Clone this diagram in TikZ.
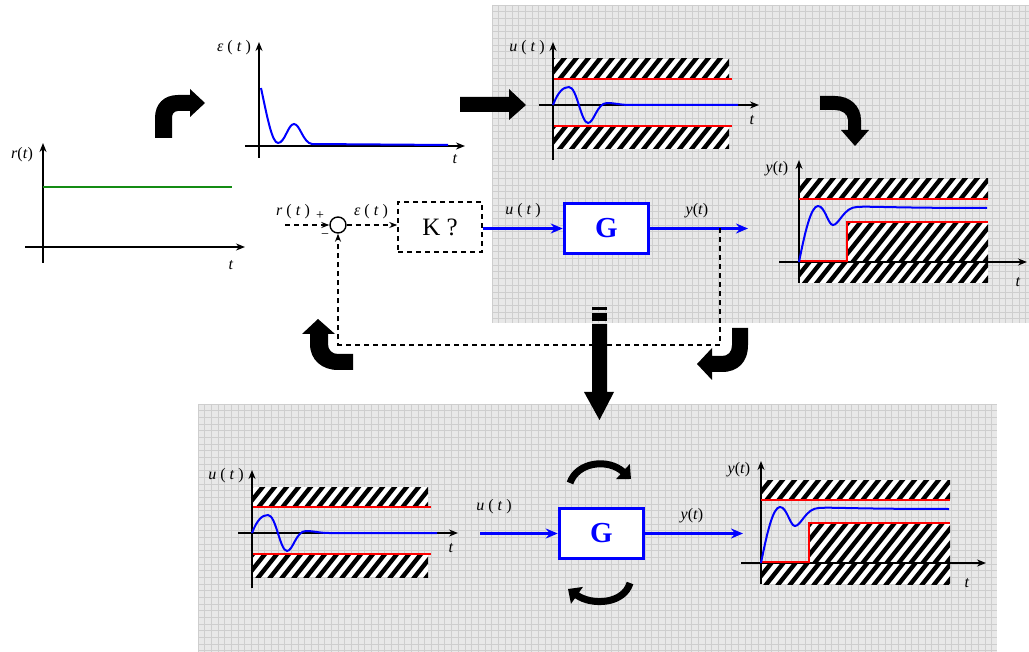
\documentclass[tikz,border=0pt]{standalone}
\usepackage{fontspec}
\setmainfont{Liberation Serif}
\usetikzlibrary{arrows.meta}
\definecolor{panelgray}{RGB}{232,232,232}
\definecolor{gridc}{RGB}{206,206,206}
\definecolor{rgreen}{RGB}{20,140,20}
\tikzset{
 axis/.style={line width=1.6pt, -{Stealth[length=9pt,width=7pt]}},
 redl/.style={line width=2pt, red},
 bluel/.style={line width=2pt, blue},
 lbl/.style={font=\fontsize{16}{18}\selectfont, inner sep=0pt},
 smalllbl/.style={font=\fontsize{14}{16}\selectfont, inner sep=0pt},
 fatarrow/.style={fill=black},
 dashl/.style={line width=1.5pt, dash pattern=on 5pt off 4pt},
 dasharrow/.style={dashl, -{Stealth[length=8pt,width=6pt]}},
 bluearrow/.style={line width=3pt, blue, -{Stealth[length=12pt,width=10pt]}},
 gbox/.style={draw=blue, line width=3.5pt, fill=white, minimum width=84pt, minimum height=50pt, inner sep=0pt, font=\fontsize{29}{31}\selectfont\bfseries, text=blue},
 kbox/.style={draw, dashl, minimum width=84pt, minimum height=50pt, inner sep=0pt, font=\fontsize{25}{27}\selectfont},
 sumc/.style={draw, circle, line width=1.4pt, minimum size=16pt, inner sep=0pt},
 gridline/.style={gridc, line width=0.6pt},
 turnarrow/.style={line width=7pt, -{Triangle[length=11pt,width=20pt]}}
}
\newcommand\hatchbox[4]{%
 \begin{scope}
 \clip (#1,#2) rectangle (#3,#4);
 \fill[white] (#1,#2) rectangle (#3,#4);
 \foreach \k in {-80,-68,...,200} {
   \draw[line width=4.4pt] ({#1+\k},{#4+2}) -- ++(80,-100);
 }
 \end{scope}}
\newcommand\gridpanel[4]{%
 \fill[panelgray] (#1,#2) rectangle (#3,#4);
 \begin{scope}
 \clip (#1,#2) rectangle (#3,#4);
 \foreach \g in {0,...,125} {
   \draw[gridline] ({#1+\g*6.67},#2) -- ({#1+\g*6.67},#4);
   \draw[gridline] (#1,{#2+\g*6.67}) -- (#3,{#2+\g*6.67});
 }
 \end{scope}}
\newcommand\uplot[1]{%
 \hatchbox{1}{-46}{176}{-26}
 \hatchbox{1}{21}{176}{44}
 \draw[axis] (-14,0) -- (206,0);
 \draw[axis] (0,55) -- (0,-63);
 \draw[redl] (1,-26) -- (179,-26);
 \draw[redl] (1,21) -- (179,21);
 \draw[bluel] (0,0) .. controls (5,-13) and (10,-18) .. (16,-18) .. controls (24,-18) and (28,18) .. (35,18) .. controls (41,18) and (44,-2) .. (54,-2) .. controls (62,-2) and (67,0) .. (77,0) -- (185,0);
 \node[lbl] (#1-lab) at (-26,-57) {\textit{u} ( \textit{t} )};
 \node[lbl] (#1-t) at (199,15) {\textit{t}};
}
\newcommand\yplot[3]{%
 \hatchbox{0}{-83}{189}{-63}
 \hatchbox{48}{-40}{189}{0}
 \hatchbox{0}{0}{189}{21}
 \draw[axis] (-20,0) -- (#2,0);
 \draw[axis] (0,21) -- (0,-102);
 \draw[redl] (0,-63) -- (189,-63);
 \draw[redl] (0,-1) -- (48,-1) -- (48,-40) -- (189,-40);
 \draw[bluel] (0,0) .. controls (6,-30) and (12,-56) .. (19,-56) .. controls (26,-56) and (29,-37) .. (34,-37) .. controls (40,-37) and (45,-55) .. (58,-55) .. controls (70,-56) and (90,-54) .. (188,-54);
 \node[lbl] (#1-lab) at (-22,-93) {\textit{y}(\textit{t})};
 \node[lbl] (#1-t) at (#3,20) {\textit{t}};
}
\begin{document}
\begin{tikzpicture}[x=1pt,y=-1pt]
\useasboundingbox (0,0) rectangle (1029,652);
\fill[white] (0,0) rectangle (1029,652);
% panels
\gridpanel{492}{5}{1029}{323}
\gridpanel{198}{404}{997}{652}

% r(t) plot
\draw[axis] (25,247) -- (245,247);
\draw[axis] (43,263) -- (43,143);
\draw[line width=2pt, rgreen] (43,187) -- (232,187);
\node[lbl] (rlab) at (22,155) {\textit{r}(\textit{t})};
\node[lbl] (rt) at (231,265) {\textit{t}};

% epsilon plot
\begin{scope}[shift={(259,146)}]
 \draw[axis] (-14,0) -- (206,0);
 \draw[axis] (0,12) -- (0,-104);
 \draw[bluel] (2,-58) .. controls (8,-30) and (13,-3) .. (19,-3) .. controls (26,-3) and (29,-22) .. (35,-22) .. controls (41,-22) and (44,-3) .. (53,-2) -- (189,-1);
 \node[lbl] (elab) at (-25,-98) {\textit{ε} ( \textit{t} )};
 \node[lbl] (et) at (196,13) {\textit{t}};
\end{scope}

% u plots
\begin{scope}[shift={(553,105)}]\uplot{u1}\end{scope}
\begin{scope}[shift={(252,533)}]\uplot{u2}\end{scope}
% y plots
\begin{scope}[shift={(799,262)}]\yplot{y1}{228}{219}\end{scope}
\begin{scope}[shift={(761,563)}]\yplot{y2}{225}{206}\end{scope}

% fat arrows
\fill[fatarrow] (155,138) -- (155,118) .. controls (155,104) and (164,95) .. (178,95) -- (190,95) -- (190,89) -- (205,103) -- (190,117) -- (190,111) -- (178,111) .. controls (174,111) and (172,114) .. (172,118) -- (172,138) -- cycle;
\fill[fatarrow] (460,97) -- (509,97) -- (509,89) -- (526,105) -- (509,120) -- (509,112) -- (460,112) -- cycle;
\fill[fatarrow] (820,96) -- (835,96) .. controls (850,96) and (861,106) .. (861,120) -- (861,130) -- (869,130) -- (855,146) -- (841,130) -- (848,130) -- (848,120) .. controls (848,114) and (842,110) .. (835,110) -- (820,110) -- cycle;
\fill[fatarrow] (353,354) -- (338,354) .. controls (332,354) and (328,350) .. (328,344) -- (328,334) -- (335,334) -- (318,319) -- (302,334) -- (310,334) -- (310,344) .. controls (310,360) and (322,370) .. (338,370) -- (353,370) -- cycle;
\fill[fatarrow] (732,328) -- (748,328) -- (748,345) .. controls (748,362) and (738,372) .. (722,372) -- (712,372) -- (712,380) -- (697,364) -- (712,348) -- (712,356) -- (722,356) .. controls (728,356) and (732,352) .. (732,345) -- cycle;
% big down arrow
\fill[fatarrow] (592,307) rectangle (607,310);
\fill[fatarrow] (592,313) rectangle (607,321);
\fill[fatarrow] (592,324) -- (607,324) -- (607,392) -- (614,392) -- (599.5,420) -- (584,392) -- (592,392) -- cycle;

% block diagram top
\coordinate (rin) at (285,225);
\node[sumc] (sum) at (338,225) {};
\node[kbox] (K) at (440,227) {K ?};
\node[gbox] (G) at (606.5,228.5) {G};
\coordinate (yout) at (748,228.5);
\coordinate (tap) at (720,228.5);
\coordinate (fbr) at (720,345);
\coordinate (fbl) at (338,345);
\draw[dasharrow] (rin) -- (sum.west);
\draw[dasharrow] (sum.east) -- (sum.east -| K.west);
\draw[bluearrow] (K.east |- G.west) -- (G.west);
\draw[bluearrow] (G.east) -- (yout);
\draw[dasharrow] (tap) -- (fbr) -- (fbl) -- (sum.south);
\node[lbl] (rl) at (293,212) {\textit{r} ( \textit{t} )};
\node[smalllbl] (plus) at (320,216) {+};
\node[smalllbl] (minus) at (325,236) {−};
\node[lbl] (el) at (371,212) {\textit{ε} ( \textit{t} )};
\node[lbl] (ul) at (523,211) {\textit{u} ( \textit{t} )};
\node[lbl] (yl) at (697,211) {\textit{y}(\textit{t})};

% block diagram bottom
\node[gbox] (G2) at (601.5,533.5) {G};
\coordinate (uin2) at (480,533.5);
\coordinate (yout2) at (743,533.5);
\draw[bluearrow] (uin2) -- (G2.west);
\draw[bluearrow] (G2.east) -- (yout2);
\node[lbl] (ul2) at (494,507) {\textit{u} ( \textit{t} )};
\node[lbl] (yl2) at (692,516) {\textit{y}(\textit{t})};
\draw[turnarrow] (570,483) .. controls (577,462) and (608,458) .. (631,479);
\draw[turnarrow] (630,583) .. controls (624,604) and (592,606) .. (568,589);
\end{tikzpicture}
\end{document}
